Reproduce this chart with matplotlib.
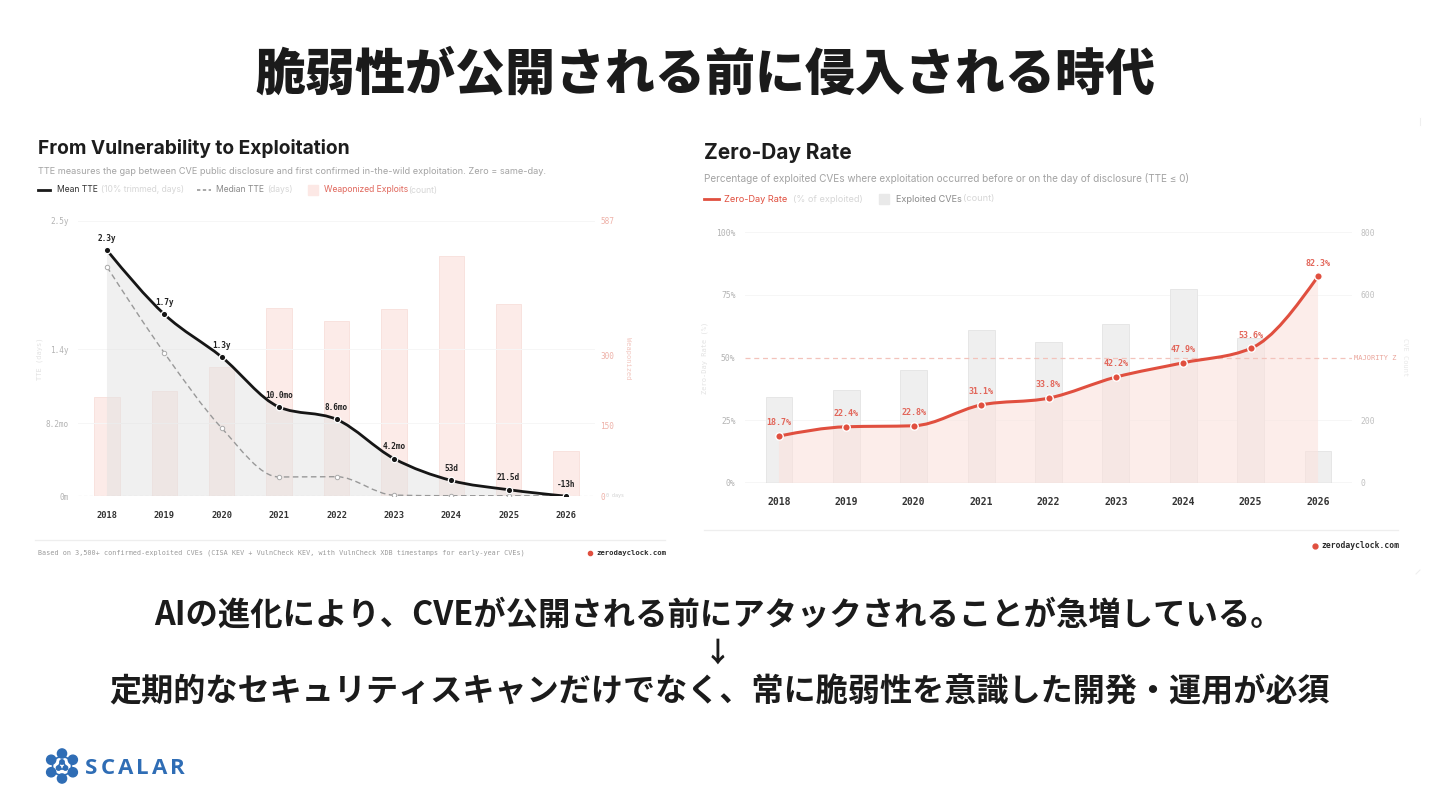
import numpy as np
import matplotlib.pyplot as plt
from matplotlib.path import Path
from matplotlib.patches import PathPatch, Circle, Polygon

# ---- data ----
years = ['2018', '2019', '2020', '2021', '2022', '2023', '2024', '2025', '2026']

# left chart: time-to-exploit (days) + weaponized exploits (count)
mean_tte_days = [840, 621, 475, 304, 262, 128, 53, 21.5, -0.54]
mean_tte_labels = ['2.3y', '1.7y', '1.3y', '10.0mo', '8.6mo', '4.2mo', '53d', '21.5d', '-13h']
median_tte_days = [783, 489, 232, 65, 66, 3, 1, 1, 0]
weaponized = [211, 224, 275, 401, 374, 399, 512, 410, 96]
tte_ticks = [0, 249, 502, 940]
tte_ticklabels = ['0m', '8.2mo', '1.4y', '2.5y']
weap_ticks = [0, 150, 300, 587]

# right chart: zero-day rate (%) + exploited CVEs (count)
zero_day_rate = [18.7, 22.4, 22.8, 31.1, 33.8, 42.2, 47.9, 53.6, 82.3]
exploited_cves = [274, 296, 360, 488, 449, 507, 618, 462, 102]
rate_ticks = [0, 25, 50, 75, 100]
count_ticks = [0, 200, 600, 800]

W, H = 1440, 810
JP = ['Noto Sans CJK JP', 'DejaVu Sans']
SANS = ['Inter', 'DejaVu Sans']
MONO = 'DejaVu Sans Mono'
RED = '#e04f3f'


def mono_slopes(x, y):
    # d3 curveMonotoneX tangents
    n = len(x)
    h = np.diff(x)
    s = np.diff(y) / h
    t = np.zeros(n)
    for i in range(1, n - 1):
        p = (s[i - 1] * h[i] + s[i] * h[i - 1]) / (h[i - 1] + h[i])
        t[i] = (np.sign(s[i - 1]) + np.sign(s[i])) * min(abs(s[i - 1]), abs(s[i]), 0.5 * abs(p))
    t[0] = (3 * s[0] - t[1]) / 2
    t[-1] = (3 * s[-1] - t[-2]) / 2
    return t


def curve_path(x, y, base=None):
    x = np.asarray(x, float)
    y = np.asarray(y, float)
    t = mono_slopes(x, y)
    verts = [(x[0], y[0])]
    codes = [Path.MOVETO]
    for i in range(len(x) - 1):
        h = x[i + 1] - x[i]
        verts += [(x[i] + h / 3, y[i] + t[i] * h / 3),
                  (x[i + 1] - h / 3, y[i + 1] - t[i + 1] * h / 3),
                  (x[i + 1], y[i + 1])]
        codes += [Path.CURVE4] * 3
    if base is not None:
        verts += [(x[-1], base), (x[0], base), (x[0], y[0])]
        codes += [Path.LINETO, Path.LINETO, Path.CLOSEPOLY]
    return Path(verts, codes)


def box(x0, y0, x1, y1):
    return [x0 / W, 1 - y1 / H, (x1 - x0) / W, (y1 - y0) / H]


def mono_ticks(labels, bold=False):
    for lab in labels:
        lab.set_family(MONO)
        if bold:
            lab.set_weight('bold')


fig = plt.figure(figsize=(14.4, 8.1), dpi=100)
fig.patch.set_facecolor('white')

# overlay in pixel coords for all page-level text
ov = fig.add_axes([0, 0, 1, 1])
ov.set_xlim(0, W)
ov.set_ylim(H, 0)
ov.axis('off')

ov.text(705, 75, '脆弱性が公開される前に侵入される時代', family=JP, fontsize=36,
        weight='black', color='#1b1b1b', ha='center', va='center')

# ---------- left panel header ----------
ov.text(38, 149, 'From Vulnerability to Exploitation', family=SANS, fontsize=13.8,
        weight='bold', color='#1d1d1d', va='center')
ov.text(38, 172, 'TTE measures the gap between CVE public disclosure and first confirmed '
        'in-the-wild exploitation. Zero = same-day.', family=SANS, fontsize=6.6,
        color='#a3a3a3', va='center')
ov.plot([38, 50], [190, 190], color='#1a1a1a', lw=2)
ov.text(57, 190, 'Mean TTE', family=SANS, fontsize=6.2, color='#333333', va='center')
ov.text(101, 190, '(10% trimmed, days)', family=SANS, fontsize=6.2, color='#d6d6d6', va='center')
ov.plot([197, 211], [190, 190], color='#999999', lw=1.2, ls=(0, (2, 1.5)))
ov.text(216, 190, 'Median TTE', family=SANS, fontsize=6.2, color='#8a8a8a', va='center')
ov.text(267, 190, '(days)', family=SANS, fontsize=6.2, color='#d6d6d6', va='center')
ov.add_patch(plt.Rectangle((308, 185), 10, 10, color='#fce8e5'))
ov.text(324, 190, 'Weaponized Exploits', family=SANS, fontsize=6.2, color='#e0675c', va='center')
ov.text(408, 190, '(count)', family=SANS, fontsize=6.2, color='#d6d6d6', va='center')

# left footer
ov.plot([35, 665], [540, 540], color='#eeeeee', lw=0.9)
ov.text(38, 553, 'Based on 3,500+ confirmed-exploited CVEs (CISA KEV + VulnCheck KEV, '
        'with VulnCheck XDB timestamps for early-year CVEs)', family=MONO, fontsize=4.9,
        color='#9a9a9a', va='center')
ov.plot([590], [553], 'o', color=RED, ms=3)
ov.text(596, 553, 'zerodayclock.com', family=MONO, fontsize=5.2, color='#2a2a2a',
        weight='bold', va='center')

# ---------- right panel header ----------
ov.text(704, 153, 'Zero-Day Rate', family=SANS, fontsize=15, weight='bold',
        color='#1d1d1d', va='center')
ov.text(704, 178, 'Percentage of exploited CVEs where exploitation occurred before or on '
        'the day of disclosure (TTE ≤ 0)', family=SANS, fontsize=7.2, color='#a3a3a3',
        va='center')
ov.plot([704, 719], [199, 199], color=RED, lw=2)
ov.text(724, 199, 'Zero-Day Rate', family=SANS, fontsize=6.6, color=RED, va='center')
ov.text(793, 199, '(% of exploited)', family=SANS, fontsize=6.6, color='#d6d6d6', va='center')
ov.add_patch(plt.Rectangle((879, 194), 10, 10, color='#e9e9e9'))
ov.text(896, 199, 'Exploited CVEs', family=SANS, fontsize=6.6, color='#8a8a8a', va='center')
ov.text(963, 199, '(count)', family=SANS, fontsize=6.6, color='#d6d6d6', va='center')

ov.plot([704, 1398], [530, 530], color='#eeeeee', lw=0.9)
ov.plot([1315], [546], 'o', color=RED, ms=3.5)
ov.text(1321, 546, 'zerodayclock.com', family=MONO, fontsize=5.8, color='#2a2a2a',
        weight='bold', va='center')
# faint card edges of the right panel
ov.plot([1420, 1420], [118, 125], color='#efefef', lw=0.8)
ov.plot([1416, 1420], [574, 570], color='#efefef', lw=0.8)

# ---------- bottom message ----------
ov.text(718, 615, 'AIの進化により、CVEが公開される前にアタックされることが急増している。',
        family=JP, fontsize=23.3, weight='bold', color='#1b1b1b', ha='center', va='center')
ov.text(718, 654, '↓', family=JP, fontsize=20, weight='bold', color='#1b1b1b',
        ha='center', va='center')
ov.text(720, 692, '定期的なセキュリティスキャンだけでなく、常に脆弱性を意識した開発・運用が必須',
        family=JP, fontsize=23.1, weight='bold', color='#1b1b1b', ha='center', va='center')

# ---------- logo ----------
BLUE = '#2f6db5'
cx, cy = 62, 766
for k in range(6):
    a = np.deg2rad(30 + 60 * k)
    ov.add_patch(Circle((cx + 12.5 * np.cos(a), cy + 12.5 * np.sin(a)), 4.6, color=BLUE))
ov.add_patch(Circle((cx, cy), 9.5, fill=False, ec=BLUE, lw=1.2))
ov.add_patch(Polygon([(cx, cy - 6), (cx - 5.2, cy + 3), (cx + 5.2, cy + 3)],
                     closed=True, fill=False, ec=BLUE, lw=1.2))
for a in (-90, 150, 30):
    r = np.deg2rad(a)
    ov.add_patch(Circle((cx + 4 * np.cos(r), cy + 4 * np.sin(r)), 2.2, color=BLUE))
for i, ch in enumerate('SCALAR'):
    ov.text(91 + i * 17.2, 768, ch, family=['Open Sans', 'DejaVu Sans'], fontsize=16,
            weight='bold', color=BLUE, ha='center', va='center')

xi = np.arange(len(years))

# ---------- left chart ----------
axL = fig.add_axes(box(78.3, 221, 594.7, 496))
axL.set_facecolor('none')
axL2 = axL.twinx()

axL.bar(xi, weaponized, width=0.44, color='#fcebe8', edgecolor='#f8dfda', lw=0.6, zorder=1)
axL.set_ylim(0, 587)
axL.set_xlim(-0.5, 8.5)
axL.yaxis.tick_right()
axL.yaxis.set_label_position('right')
axL.set_yticks(weap_ticks)
axL.set_yticklabels([str(v) for v in weap_ticks])
axL.tick_params(axis='y', length=0, pad=4, labelsize=5.6, labelcolor='#eeb1a8')
mono_ticks(axL.get_yticklabels())
axL.set_xticks(xi)
axL.set_xticklabels(years)
axL.tick_params(axis='x', length=0, pad=11, labelsize=6.3, labelcolor='#333333')
mono_ticks(axL.get_xticklabels(), bold=True)
for s in axL.spines.values():
    s.set_visible(False)
axL.set_ylabel('Weaponized', family=MONO, fontsize=5, color='#f2c6bf', rotation=270,
               labelpad=12)

axL2.set_ylim(0, 940)
axL2.yaxis.tick_left()
axL2.yaxis.set_label_position('left')
axL2.set_yticks(tte_ticks)
axL2.set_yticklabels(tte_ticklabels)
axL2.tick_params(axis='y', length=0, pad=7, labelsize=5.6, labelcolor='#b3b3b3')
mono_ticks(axL2.get_yticklabels())
axL2.set_ylabel('TTE (days)', family=MONO, fontsize=5, color='#e2e2e2', labelpad=2)
for s in axL2.spines.values():
    s.set_visible(False)
for v in tte_ticks[1:]:
    axL2.axhline(v, color='#f6f6f6', lw=0.7, zorder=0)
axL2.axhline(0, color='#c8c8c8', lw=0.8, ls=(0, (3, 2)), zorder=2)
axL2.text(8.7, 2, '0 days', family=MONO, fontsize=3.6, color='#d0d0d0', va='center')

axL2.add_patch(PathPatch(curve_path(xi, mean_tte_days, base=0), facecolor='#e2e2e2',
                         alpha=0.5, edgecolor='none', zorder=1))
axL2.add_patch(PathPatch(curve_path(xi, median_tte_days), facecolor='none',
                         edgecolor='#999999', lw=1.0, ls=(0, (4, 2.5)), zorder=3))
axL2.plot(xi, median_tte_days, 'o', ms=3.2, mfc='white', mec='#aaaaaa', mew=0.7, zorder=4)
axL2.add_patch(PathPatch(curve_path(xi, mean_tte_days), facecolor='none',
                         edgecolor='#161616', lw=2.0, capstyle='round', zorder=5))
axL2.plot(xi, mean_tte_days, 'o', ms=4.6, color='#161616', mec='white', mew=0.9, zorder=6)
for x, v, lab in zip(xi, mean_tte_days, mean_tte_labels):
    axL2.annotate(lab, (x, v), xytext=(0, 8.5), textcoords='offset points', ha='center',
                  va='center', family=MONO, fontsize=5.6, weight='bold', color='#222222',
                  zorder=7)

# ---------- right chart ----------
axR = fig.add_axes(box(745.3, 232, 1351.7, 483))
axR.set_facecolor('none')
axR2 = axR.twinx()

axR.bar(xi, exploited_cves, width=0.4, color='#efefef', edgecolor='#e4e4e4', lw=0.6, zorder=1)
axR.set_ylim(0, 800)
axR.set_xlim(-0.5, 8.5)
axR.yaxis.tick_right()
axR.yaxis.set_label_position('right')
axR.set_yticks(count_ticks)
axR.set_yticklabels([str(v) for v in count_ticks])
axR.tick_params(axis='y', length=0, pad=6, labelsize=5.8, labelcolor='#c0c0c0')
mono_ticks(axR.get_yticklabels())
axR.set_xticks(xi)
axR.set_xticklabels(years)
axR.tick_params(axis='x', length=0, pad=10, labelsize=7, labelcolor='#333333')
mono_ticks(axR.get_xticklabels(), bold=True)
for s in axR.spines.values():
    s.set_visible(False)
axR.set_ylabel('CVE Count', family=MONO, fontsize=5, color='#e8e8e8', rotation=270,
               labelpad=24)
for v in (200, 600, 800):
    axR.axhline(v, color='#f6f6f6', lw=0.7, zorder=0)
axR.axhline(0, color='#d6d6d6', lw=1.0, zorder=2)

axR2.set_ylim(0, 100)
axR2.yaxis.tick_left()
axR2.yaxis.set_label_position('left')
axR2.set_yticks(rate_ticks)
axR2.set_yticklabels([f'{v}%' for v in rate_ticks])
axR2.tick_params(axis='y', length=0, pad=7, labelsize=5.8, labelcolor='#b3b3b3')
mono_ticks(axR2.get_yticklabels())
axR2.set_ylabel('Zero-Day Rate (%)', family=MONO, fontsize=5, color='#e2e2e2', labelpad=6)
for s in axR2.spines.values():
    s.set_visible(False)
axR2.axhline(50, color='#f3c3bb', lw=0.9, ls=(0, (4, 3)), zorder=2)
axR2.text(8.53, 50, 'MAJORITY Z', family=MONO, fontsize=5, color='#eaa59b', va='center')

axR2.add_patch(PathPatch(curve_path(xi, zero_day_rate, base=0), facecolor='#fbe2dd',
                         alpha=0.6, edgecolor='none', zorder=1))
axR2.add_patch(PathPatch(curve_path(xi, zero_day_rate), facecolor='none', edgecolor=RED,
                         lw=2.2, capstyle='round', zorder=5))
axR2.plot(xi, zero_day_rate, 'o', ms=5.4, color=RED, mec='white', mew=1.0, zorder=6)
for x, v in zip(xi, zero_day_rate):
    axR2.annotate(f'{v:.1f}%', (x, v), xytext=(0, 9.5), textcoords='offset points',
                  ha='center', va='center', family=MONO, fontsize=6, weight='bold',
                  color='#e2665a', zorder=7)

fig.savefig('out.png', dpi=100, facecolor='white')
